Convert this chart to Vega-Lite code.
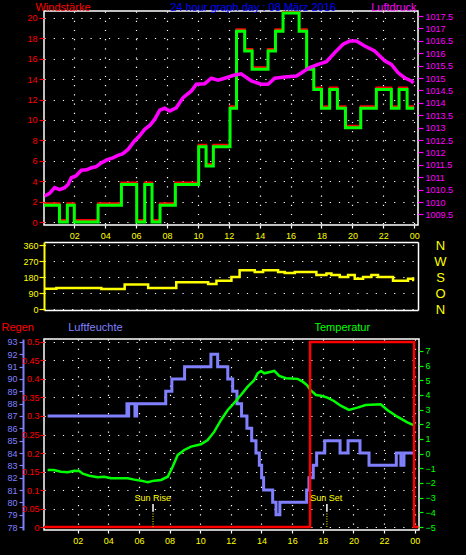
{
  "$schema": "https://vega.github.io/schema/vega-lite/v6.json",
  "background": "black",
  "padding": {"left": 0, "top": 0, "right": 25, "bottom": 12},
  "autosize": {"type": "pad"},
  "bounds": "full",
  "spacing": 3,
  "datasets": {
    "wind": [{"h":0.05,"v":1.65},{"h":1.04,"v":0},{"h":1.55,"v":1.65},{"h":2.0,"v":0},{"h":3.54,"v":1.65},{"h":5.05,"v":3.67},{"h":6.04,"v":0},{"h":6.56,"v":3.67},{"h":7.03,"v":0},{"h":7.55,"v":1.65},{"h":8.54,"v":3.67},{"h":10.05,"v":7.38},{"h":10.53,"v":5.5},{"h":11.0,"v":7.38},{"h":12.08,"v":11.15},{"h":12.5,"v":18.7},{"h":13.03,"v":16.76},{"h":13.51,"v":14.97},{"h":14.54,"v":16.76},{"h":15.02,"v":18.7},{"h":15.51,"v":20.5},{"h":16.55,"v":18.7},{"h":17.04,"v":14.97},{"h":17.5,"v":13.0},{"h":18.0,"v":11.15},{"h":18.53,"v":13.0},{"h":19.03,"v":11.15},{"h":19.55,"v":9.25},{"h":20.54,"v":11.15},{"h":21.55,"v":13.0},{"h":22.52,"v":11.15},{"h":23.02,"v":13.0},{"h":23.54,"v":11.15},{"h":24.0,"v":11.15}],
    "press": [{"h":0.08,"p":1010.24},{"h":0.4,"p":1010.35},{"h":0.73,"p":1010.58},{"h":1.05,"p":1010.5},{"h":1.38,"p":1010.58},{"h":1.6,"p":1010.71},{"h":1.81,"p":1010.98},{"h":2.1,"p":1011.05},{"h":2.46,"p":1011.28},{"h":2.8,"p":1011.3},{"h":3.1,"p":1011.38},{"h":3.4,"p":1011.42},{"h":3.75,"p":1011.58},{"h":4.19,"p":1011.72},{"h":4.5,"p":1011.78},{"h":4.83,"p":1011.88},{"h":5.15,"p":1011.95},{"h":5.48,"p":1012.12},{"h":5.9,"p":1012.46},{"h":6.2,"p":1012.65},{"h":6.56,"p":1012.93},{"h":6.9,"p":1013.1},{"h":7.2,"p":1013.33},{"h":7.53,"p":1013.7},{"h":7.85,"p":1013.78},{"h":8.18,"p":1013.67},{"h":8.6,"p":1013.8},{"h":9.04,"p":1014.21},{"h":9.58,"p":1014.48},{"h":9.9,"p":1014.75},{"h":10.44,"p":1014.77},{"h":10.87,"p":1014.99},{"h":11.31,"p":1014.91},{"h":11.73,"p":1014.99},{"h":12.38,"p":1015.12},{"h":12.8,"p":1015.17},{"h":13.46,"p":1014.88},{"h":14.11,"p":1014.75},{"h":14.54,"p":1014.75},{"h":14.97,"p":1014.99},{"h":15.62,"p":1015.04},{"h":16.38,"p":1015.08},{"h":16.81,"p":1015.25},{"h":17.24,"p":1015.42},{"h":17.78,"p":1015.55},{"h":18.32,"p":1015.66},{"h":18.85,"p":1016.02},{"h":19.4,"p":1016.36},{"h":19.83,"p":1016.49},{"h":20.26,"p":1016.49},{"h":20.8,"p":1016.29},{"h":21.44,"p":1016.09},{"h":22.09,"p":1015.69},{"h":22.52,"p":1015.55},{"h":22.96,"p":1015.21},{"h":23.38,"p":1015.01},{"h":23.82,"p":1014.88},{"h":23.95,"p":1014.8}],
    "dir": [{"h":0.1,"d":116},{"h":0.84,"d":120},{"h":3.75,"d":114},{"h":5.26,"d":139},{"h":6.78,"d":120},{"h":8.6,"d":152},{"h":10.66,"d":143},{"h":11.2,"d":161},{"h":12.17,"d":182},{"h":12.7,"d":219},{"h":13.68,"d":210},{"h":14.22,"d":219},{"h":15.19,"d":210},{"h":15.62,"d":204},{"h":16.27,"d":210},{"h":17.67,"d":193},{"h":18.32,"d":202},{"h":18.64,"d":193},{"h":19.18,"d":182},{"h":19.72,"d":193},{"h":20.15,"d":172},{"h":20.69,"d":182},{"h":21.23,"d":193},{"h":21.66,"d":182},{"h":22.63,"d":161},{"h":23.6,"d":172},{"h":23.93,"d":165},{"h":24.0,"d":165}],
    "hum": [{"h":0.04,"u":87},{"h":5.22,"u":88},{"h":5.28,"u":87},{"h":5.33,"u":88},{"h":5.74,"u":87},{"h":5.85,"u":88},{"h":7.75,"u":89},{"h":8.15,"u":90},{"h":8.98,"u":91},{"h":10.7,"u":92},{"h":11.14,"u":91},{"h":11.8,"u":90},{"h":12.12,"u":89},{"h":12.4,"u":88},{"h":12.7,"u":87},{"h":13.05,"u":86},{"h":13.36,"u":85},{"h":13.64,"u":84},{"h":13.86,"u":83},{"h":14.01,"u":82},{"h":14.14,"u":81},{"h":14.73,"u":80},{"h":14.95,"u":79},{"h":15.2,"u":80},{"h":16.95,"u":81},{"h":17.1,"u":82},{"h":17.38,"u":83},{"h":17.6,"u":84},{"h":18.13,"u":85},{"h":19.13,"u":84},{"h":19.65,"u":85},{"h":20.43,"u":84},{"h":21.02,"u":83},{"h":22.8,"u":84},{"h":23.1,"u":83},{"h":23.3,"u":84},{"h":24.0,"u":84}],
    "temp": [{"h":0.04,"t":-1.11},{"h":0.44,"t":-1.11},{"h":0.91,"t":-1.23},{"h":1.35,"t":-1.27},{"h":1.78,"t":-1.16},{"h":2.11,"t":-1.18},{"h":2.33,"t":-1.36},{"h":2.76,"t":-1.5},{"h":3.31,"t":-1.61},{"h":3.74,"t":-1.57},{"h":4.18,"t":-1.68},{"h":5.27,"t":-1.68},{"h":5.7,"t":-1.77},{"h":6.14,"t":-1.84},{"h":6.57,"t":-1.95},{"h":7.0,"t":-1.84},{"h":7.44,"t":-1.79},{"h":7.88,"t":-1.57},{"h":8.2,"t":-0.89},{"h":8.53,"t":-0.09},{"h":8.96,"t":0.25},{"h":9.4,"t":0.48},{"h":10.05,"t":0.64},{"h":10.49,"t":0.93},{"h":10.92,"t":1.5},{"h":11.36,"t":2.3},{"h":11.8,"t":2.98},{"h":12.0,"t":3.2},{"h":12.34,"t":3.61},{"h":12.66,"t":4.0},{"h":13.1,"t":4.57},{"h":13.53,"t":5.02},{"h":13.75,"t":5.48},{"h":13.97,"t":5.64},{"h":14.18,"t":5.48},{"h":14.62,"t":5.59},{"h":14.84,"t":5.64},{"h":15.16,"t":5.3},{"h":15.6,"t":5.14},{"h":16.36,"t":5.1},{"h":16.69,"t":4.91},{"h":16.97,"t":4.68},{"h":17.19,"t":4.34},{"h":17.56,"t":4.0},{"h":17.89,"t":3.95},{"h":18.3,"t":3.82},{"h":18.73,"t":3.59},{"h":19.17,"t":3.27},{"h":19.71,"t":2.98},{"h":20.26,"t":3.14},{"h":20.8,"t":3.32},{"h":21.78,"t":3.37},{"h":22.21,"t":2.98},{"h":22.87,"t":2.52},{"h":23.52,"t":2.14},{"h":24.0,"t":1.91}],
    "rain": [{"h":-0.2,"r":0},{"h":17.17,"r":0.5},{"h":23.96,"r":0},{"h":24.25,"r":0}],
    "sundot": [{"h":6.92,"r":0,"r2":0.041},{"h":18.27,"r":0,"r2":0.041}],
    "suntick": [{"h":6.92,"r":0.041,"r2":0.062},{"h":18.27,"r":0.041,"r2":0.062}],
    "suntext": [{"h":6.9,"r":0.07,"label":"Sun Rise"},{"h":18.23,"r":0.07,"label":"Sun Set"}]
  },
  "vconcat": [
    {
      "bounds": "flush",
      "spacing": 17,
      "vconcat": [
        {
          "width": 374,
          "height": 214,
          "encoding": {
            "x": {"field": "h", "type": "quantitative", "scale": {"domain": [0.039, 24.246], "nice": false, "zero": false},
              "axis": {"values": [2,4,6,8,10,12,14,16,18,20,22,24], "labelExpr": "datum.value == 24 ? '00' : (datum.value < 10 ? '0' + datum.value : '' + datum.value)", "labelColor": "#ffff00", "tickColor": "white", "tickSize": 3, "labelPadding": 3, "grid": true, "labelOverlap": false, "labelFlush": false,
                "title": "24 hour graph day : 08 März 2016", "titleColor": "#0000ff", "titleX": 208.5, "titleY": -215, "titleAlign": "center", "titleBaseline": "alphabetic"}}
          },
          "layer": [
            {
              "data": {"name": "wind"},
              "encoding": {"y": {"field": "v", "type": "quantitative", "scale": {"domain": [-0.294, 20.686], "nice": false, "zero": false},
                "axis": {"orient": "left", "values": [0,2,4,6,8,10,12,14,16,18,20], "labelOverlap": false, "labelColor": "#ff0000", "tickColor": "#ff0000", "tickSize": 5, "labelPadding": 2, "grid": true,
                  "title": "Windstärke", "titleColor": "#ff0000", "titleAngle": 0, "titleAlign": "left", "titleBaseline": "alphabetic", "titleX": -9, "titleY": -1}}},
              "layer": [
                {"mark": {"type": "line", "interpolate": "step-after", "color": "#ff0000", "strokeWidth": 2, "yOffset": -2, "clip": true}},
                {"mark": {"type": "line", "interpolate": "step-after", "color": "#00ff00", "strokeWidth": 3, "clip": true}}
              ]
            },
            {
              "data": {"name": "press"},
              "mark": {"type": "line", "color": "#ff00ff", "strokeWidth": 3.5, "clip": true},
              "encoding": {"y": {"field": "p", "type": "quantitative", "scale": {"domain": [1009.073, 1017.702], "nice": false, "zero": false},
                "axis": {"orient": "right", "values": [1009.5,1010,1010.5,1011,1011.5,1012,1012.5,1013,1013.5,1014,1014.5,1015,1015.5,1016,1016.5,1017,1017.5], "labelOverlap": false, "format": ".1~f", "labelColor": "#ff00ff", "tickColor": "#ff00ff", "tickSize": 5, "labelPadding": 2, "grid": false,
                  "title": "Luftdruck", "titleColor": "#ff00ff", "titleAngle": 0, "titleAlign": "right", "titleBaseline": "alphabetic", "titleX": -2, "titleY": -1}}}
            }
          ],
          "resolve": {"scale": {"y": "independent"}}
        },
        {
          "width": 374,
          "height": 68,
          "view": {"stroke": null},
          "data": {"name": "dir"},
          "layer": [
            {"mark": {"type": "line", "interpolate": "step-after", "color": "#ffff00", "strokeWidth": 2.5},
             "encoding": {
               "x": {"field": "h", "type": "quantitative", "scale": {"domain": [0.039, 24.246], "nice": false, "zero": false},
                 "axis": {"labels": false, "ticks": false, "grid": false, "domain": true, "domainColor": "white", "domainWidth": 1.5, "title": null}},
               "y": {"field": "d", "type": "quantitative", "scale": {"domain": [-3.9, 378.6], "nice": false, "zero": false},
                 "axis": {"orient": "left", "values": [0,90,180,270,360], "labelOverlap": false, "labelColor": "#ffff00", "tickColor": "#ffff00", "tickSize": 5, "labelPadding": 1, "domain": true, "domainColor": "#ffff00", "domainWidth": 2, "grid": true, "title": null}}}},
            {"mark": {"type": "line", "opacity": 0},
             "encoding": {
               "x": {"field": "h", "type": "quantitative", "scale": {"domain": [0.039, 24.246], "nice": false, "zero": false},
                 "axis": {"orient": "top", "labels": false, "ticks": false, "grid": false, "domain": true, "domainColor": "white", "domainWidth": 1.5, "title": null}},
               "y": {"field": "d", "type": "quantitative", "scale": {"domain": [-3.9, 378.6], "nice": false, "zero": false},
                 "axis": {"orient": "right", "values": [0,90,180,270,360], "labelOverlap": false, "labelExpr": "datum.value == 360 ? 'N' : datum.value == 270 ? 'W' : datum.value == 180 ? 'S' : datum.value == 90 ? 'O' : 'N'", "labelColor": "#ffff00", "labelFontSize": 13, "ticks": false, "domain": true, "domainColor": "white", "domainWidth": 1.5, "labelPadding": 22, "labelAlign": "center", "grid": false, "title": null}}}}
          ],
          "resolve": {"scale": {"x": "independent", "y": "independent"}}
        }
      ]
    },
    {
      "width": 375,
      "height": 191,
      "encoding": {
        "x": {"field": "h", "type": "quantitative", "scale": {"domain": [-0.196, 24.282], "nice": false, "zero": false},
          "axis": {"values": [2,4,6,8,10,12,14,16,18,20,22,24], "labelExpr": "datum.value == 24 ? '00' : (datum.value < 10 ? '0' + datum.value : '' + datum.value)", "labelColor": "#ffff00", "tickColor": "white", "tickSize": 3, "labelPadding": 3, "grid": true, "labelOverlap": false, "labelFlush": false, "title": null}}
      },
      "layer": [
        {"data": {"name": "hum"},
         "mark": {"type": "line", "interpolate": "step-after", "color": "#8080ff", "strokeWidth": 3, "clip": true},
         "encoding": {"y": {"field": "u", "type": "quantitative", "scale": {"domain": [77.757, 93.243], "nice": false, "zero": false},
           "axis": {"orient": "left", "offset": 21, "values": [78,79,80,81,82,83,84,85,86,87,88,89,90,91,92,93], "labelOverlap": false, "labelColor": "#8080ff", "tickColor": "#8080ff", "tickSize": 4, "labelPadding": 2, "domain": true, "domainColor": "#8080ff", "domainWidth": 2, "grid": false,
             "title": "Luftfeuchte", "titleColor": "#8080ff", "titleAngle": 0, "titleAlign": "left", "titleBaseline": "alphabetic", "titleX": 44.7, "titleY": -8.5}}}},
        {"data": {"name": "temp"},
         "mark": {"type": "line", "color": "#00ff00", "strokeWidth": 2.5, "clip": true},
         "encoding": {"y": {"field": "t", "type": "quantitative", "scale": {"domain": [-5.2045, 7.818], "nice": false, "zero": false},
           "axis": {"orient": "right", "values": [-5,-4,-3,-2,-1,0,1,2,3,4,5,6,7], "labelOverlap": false, "labelColor": "#00ff00", "tickColor": "#00ff00", "tickSize": 4, "labelPadding": 2, "grid": false,
             "title": "Temperatur", "titleColor": "#00ff00", "titleAngle": 0, "titleAlign": "left", "titleBaseline": "alphabetic", "titleX": -105, "titleY": -9}}}},
        {
          "encoding": {"y": {"field": "r", "type": "quantitative", "scale": {"domain": [-0.0081, 0.5081], "nice": false, "zero": false},
            "axis": {"orient": "left", "values": [0,0.05,0.1,0.15,0.2,0.25,0.3,0.35,0.4,0.45,0.5], "labelOverlap": false, "format": ".2~f", "labelColor": "#ff0000", "tickColor": "#ff0000", "tickSize": 4, "labelPadding": 1, "grid": true,
              "title": "Regen", "titleColor": "#ff0000", "titleAngle": 0, "titleAlign": "left", "titleBaseline": "alphabetic", "titleX": -43, "titleY": -9}}},
          "layer": [
            {"data": {"name": "rain"},
             "mark": {"type": "line", "interpolate": "step-after", "color": "#ff0000", "strokeWidth": 2.5, "clip": true}},
            {"data": {"name": "sundot"},
             "mark": {"type": "rule", "color": "#ffff00", "strokeWidth": 1, "strokeDash": [1, 1.5]},
             "encoding": {"y2": {"field": "r2"}}},
            {"data": {"name": "suntick"},
             "mark": {"type": "rule", "color": "white", "strokeWidth": 1.5},
             "encoding": {"y2": {"field": "r2"}}},
            {"data": {"name": "suntext"},
             "mark": {"type": "text", "color": "#ffff00", "fontSize": 9, "baseline": "alphabetic", "align": "center"},
             "encoding": {"text": {"field": "label"}}}
          ]
        }
      ],
      "resolve": {"scale": {"y": "independent"}}
    }
  ],
  "config": {
    "font": "Liberation Sans",
    "view": {"stroke": "white", "strokeWidth": 1.5},
    "axis": {"labelFont": "Liberation Sans", "labelFontSize": 9, "titleFont": "Liberation Sans", "titleFontSize": 11, "titleFontWeight": "normal", "gridColor": "white", "gridDash": [1.2, 8], "gridWidth": 1.2, "gridOpacity": 1, "domain": false, "labelOverlap": false, "labelFlush": false, "tickWidth": 1.2}
  }
}
